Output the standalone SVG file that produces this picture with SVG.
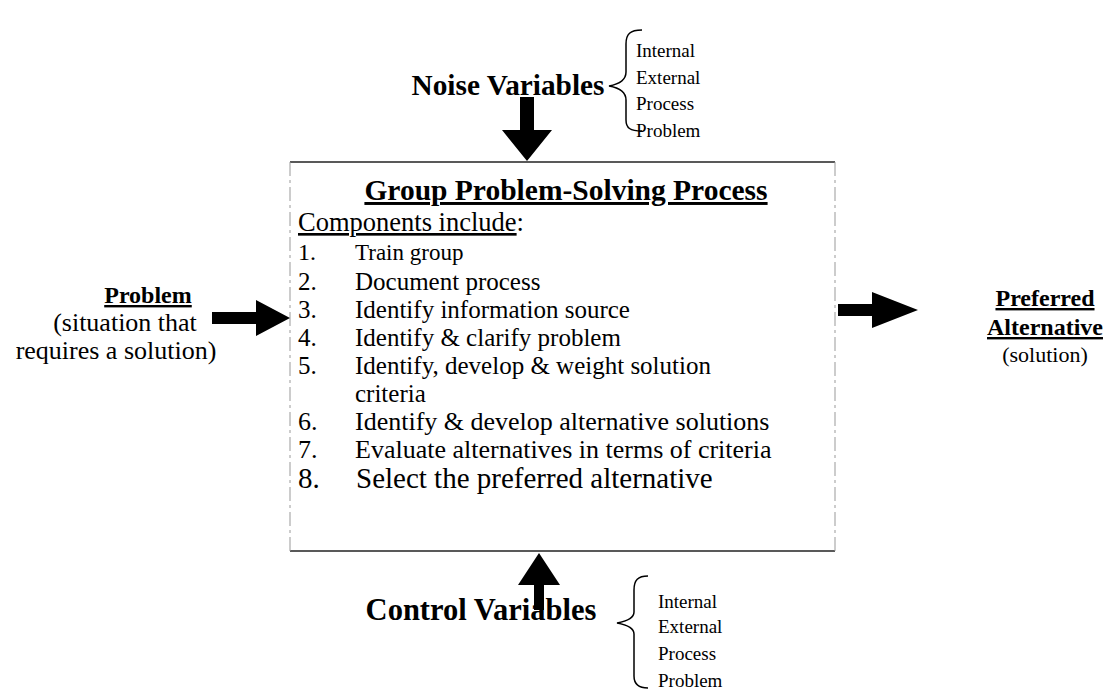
<svg xmlns="http://www.w3.org/2000/svg" width="1109" height="690" viewBox="0 0 1109 690">
<style>
text{font-family:"Liberation Serif","Times New Roman",serif;fill:#000}
.b{font-weight:bold}
.h{font-size:24px}
.t{font-size:25px}
.s{font-size:19px}
.u{text-decoration:underline}
.brace{fill:none;stroke:#000;stroke-width:1.5}
.side{stroke:#999;stroke-width:1;stroke-dasharray:14 4 3 4}
</style>
<rect width="1109" height="690" fill="#fff"/>
<g id="process">
<line x1="290" y1="162" x2="835" y2="162" stroke="#222" stroke-width="1.5"/>
<line x1="290" y1="551" x2="835" y2="551" stroke="#222" stroke-width="1.5"/>
<line x1="290" y1="162" x2="290" y2="551" class="side"/>
<line x1="835" y1="162" x2="835" y2="551" class="side"/>
<text x="566" y="200" class="b u" font-size="29.5" text-anchor="middle">Group Problem-Solving Process</text>
<text x="298" y="231" font-size="26.5"><tspan class="u">Components include</tspan>:</text>
<g class="t">
<text x="298" y="260" font-size="24">1.</text><text x="355" y="260" font-size="23">Train group</text>
<text x="298" y="290">2.</text><text x="355" y="290">Document process</text>
<text x="298" y="318">3.</text><text x="355" y="318">Identify information source</text>
<text x="298" y="346">4.</text><text x="355" y="346">Identify &amp; clarify problem</text>
<text x="298" y="374">5.</text><text x="355" y="374">Identify, develop &amp; weight solution</text>
<text x="355" y="402">criteria</text>
<text x="298" y="430" font-size="26">6.</text><text x="355" y="430" font-size="26">Identify &amp; develop alternative solutions</text>
<text x="298" y="458" font-size="26">7.</text><text x="355" y="458" font-size="26">Evaluate alternatives in terms of criteria</text>
<text x="298" y="488" font-size="29">8.</text><text x="356" y="488" font-size="29">Select the preferred alternative</text>
</g>
</g>
<g id="problem">
<text x="148" y="303" class="b u h" text-anchor="middle">Problem</text>
<text x="125" y="331" font-size="26" text-anchor="middle">(situation that</text>
<text x="116" y="359" font-size="26" text-anchor="middle">requires a solution)</text>
</g>
<g id="preferred">
<text x="1045" y="306" class="b u h" text-anchor="middle">Preferred</text>
<text x="1045" y="335" class="b u h" text-anchor="middle">Alternative</text>
<text x="1045" y="362" font-size="22" text-anchor="middle">(solution)</text>
</g>
<g id="noise">
<text x="508" y="95" class="b" font-size="29.3" text-anchor="middle">Noise Variables</text>
<path class="brace" d="M642,30 C630,30 626,34 626,44 L626,72 C626,80 620,84 609,86 C620,88 626,92 626,100 L626,120 C626,128 630,131 642,131"/>
<text x="636" y="57" class="s">Internal</text>
<text x="636" y="84" class="s">External</text>
<text x="636" y="110" class="s">Process</text>
<text x="636" y="137" class="s">Problem</text>
</g>
<g id="control">
<text x="481" y="620" class="b" font-size="30.5" text-anchor="middle">Control Variables</text>
<path class="brace" d="M648,576 C638,576 634,580 634,590 L634,612 C634,618 628,621 617,623 C628,625 634,628 634,634 L634,676 C634,684 638,688 648,688"/>
<text x="658" y="608" class="s">Internal</text>
<text x="658" y="633" class="s">External</text>
<text x="658" y="660" class="s">Process</text>
<text x="658" y="687" class="s">Problem</text>
</g>
<g id="connectors" fill="#000">
<polygon points="520,97 534,97 534,130 552,130 527,161 502,130 520,130"/>
<polygon points="534,610 544,610 544,585 560,585 539,553 518,585 534,585"/>
<polygon points="212,312 256,312 256,300 290,318 256,336 256,324 212,324"/>
<polygon points="838,304 872,304 872,292 918,310 872,328 872,316 838,316"/>
</g>
</svg>
